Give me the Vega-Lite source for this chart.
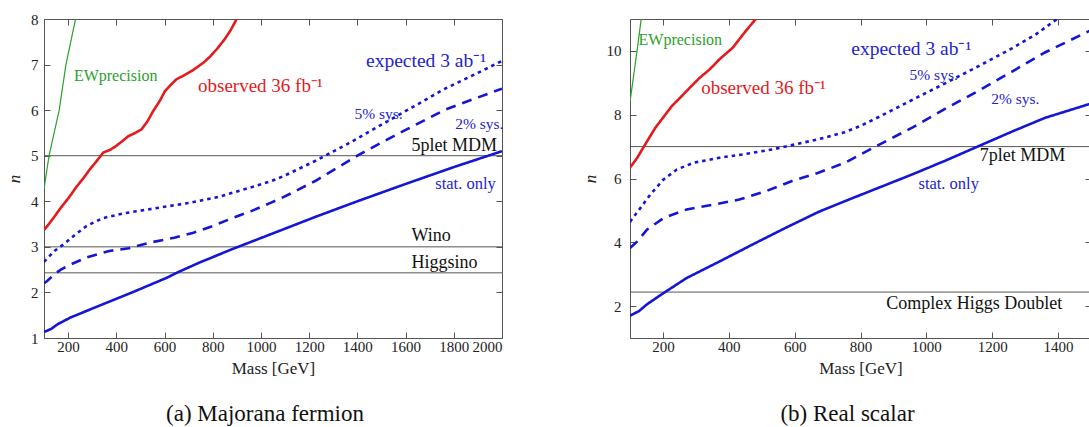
{
  "$schema": "https://vega.github.io/schema/vega-lite/v6.json",
  "padding": {"left": 5, "top": 11, "right": 0, "bottom": 0},
  "spacing": 76,
  "config": {
    "font": "Liberation Serif",
    "view": {"stroke": "#555", "strokeWidth": 1},
    "axis": {"domain": false, "grid": false, "tickColor": "#555", "tickSize": -6, "labelFont": "Liberation Serif", "labelFontSize": 15, "labelColor": "#222", "titleFont": "Liberation Serif", "titleFontSize": 17, "titleFontWeight": "normal", "titleColor": "#222", "labelPadding": 7},
    "title": {"font": "Liberation Serif", "fontSize": 23, "fontWeight": "normal", "color": "#111"}
  },
  "datasets": {
    "a_curves": [
      {"curve": "ew", "m": 100, "n": 4.27}, {"curve": "ew", "m": 121, "n": 5.0}, {"curve": "ew", "m": 142, "n": 5.5}, {"curve": "ew", "m": 163, "n": 6.0}, {"curve": "ew", "m": 177, "n": 6.5}, {"curve": "ew", "m": 191, "n": 7.0}, {"curve": "ew", "m": 211, "n": 7.5}, {"curve": "ew", "m": 231, "n": 8.0},
      {"curve": "obs", "m": 100, "n": 3.37}, {"curve": "obs", "m": 120, "n": 3.5}, {"curve": "obs", "m": 143, "n": 3.66}, {"curve": "obs", "m": 170, "n": 3.86}, {"curve": "obs", "m": 203, "n": 4.08}, {"curve": "obs", "m": 235, "n": 4.32}, {"curve": "obs", "m": 264, "n": 4.51}, {"curve": "obs", "m": 290, "n": 4.7}, {"curve": "obs", "m": 315, "n": 4.86}, {"curve": "obs", "m": 346, "n": 5.07}, {"curve": "obs", "m": 375, "n": 5.13}, {"curve": "obs", "m": 398, "n": 5.21}, {"curve": "obs", "m": 425, "n": 5.32}, {"curve": "obs", "m": 450, "n": 5.43}, {"curve": "obs", "m": 475, "n": 5.49}, {"curve": "obs", "m": 505, "n": 5.58}, {"curve": "obs", "m": 530, "n": 5.76}, {"curve": "obs", "m": 553, "n": 5.98}, {"curve": "obs", "m": 580, "n": 6.2}, {"curve": "obs", "m": 602, "n": 6.42}, {"curve": "obs", "m": 625, "n": 6.55}, {"curve": "obs", "m": 650, "n": 6.68}, {"curve": "obs", "m": 680, "n": 6.76}, {"curve": "obs", "m": 713, "n": 6.86}, {"curve": "obs", "m": 740, "n": 6.96}, {"curve": "obs", "m": 761, "n": 7.04}, {"curve": "obs", "m": 790, "n": 7.18}, {"curve": "obs", "m": 817, "n": 7.34}, {"curve": "obs", "m": 850, "n": 7.56}, {"curve": "obs", "m": 875, "n": 7.76}, {"curve": "obs", "m": 899, "n": 8.0},
      {"curve": "sys5", "m": 100, "n": 2.67}, {"curve": "sys5", "m": 120, "n": 2.78}, {"curve": "sys5", "m": 143, "n": 2.91}, {"curve": "sys5", "m": 183, "n": 3.06}, {"curve": "sys5", "m": 223, "n": 3.24}, {"curve": "sys5", "m": 277, "n": 3.46}, {"curve": "sys5", "m": 344, "n": 3.63}, {"curve": "sys5", "m": 425, "n": 3.73}, {"curve": "sys5", "m": 519, "n": 3.81}, {"curve": "sys5", "m": 613, "n": 3.89}, {"curve": "sys5", "m": 707, "n": 3.97}, {"curve": "sys5", "m": 827, "n": 4.1}, {"curve": "sys5", "m": 935, "n": 4.27}, {"curve": "sys5", "m": 1042, "n": 4.44}, {"curve": "sys5", "m": 1093, "n": 4.55}, {"curve": "sys5", "m": 1227, "n": 4.89}, {"curve": "sys5", "m": 1360, "n": 5.26}, {"curve": "sys5", "m": 1493, "n": 5.66}, {"curve": "sys5", "m": 1627, "n": 6.06}, {"curve": "sys5", "m": 1760, "n": 6.46}, {"curve": "sys5", "m": 1893, "n": 6.8}, {"curve": "sys5", "m": 2000, "n": 7.08},
      {"curve": "sys2", "m": 100, "n": 2.2}, {"curve": "sys2", "m": 113, "n": 2.25}, {"curve": "sys2", "m": 143, "n": 2.4}, {"curve": "sys2", "m": 170, "n": 2.5}, {"curve": "sys2", "m": 197, "n": 2.58}, {"curve": "sys2", "m": 277, "n": 2.77}, {"curve": "sys2", "m": 371, "n": 2.91}, {"curve": "sys2", "m": 452, "n": 2.97}, {"curve": "sys2", "m": 545, "n": 3.1}, {"curve": "sys2", "m": 640, "n": 3.2}, {"curve": "sys2", "m": 720, "n": 3.31}, {"curve": "sys2", "m": 801, "n": 3.46}, {"curve": "sys2", "m": 881, "n": 3.63}, {"curve": "sys2", "m": 962, "n": 3.79}, {"curve": "sys2", "m": 1042, "n": 3.97}, {"curve": "sys2", "m": 1093, "n": 4.09}, {"curve": "sys2", "m": 1227, "n": 4.45}, {"curve": "sys2", "m": 1400, "n": 5.0}, {"curve": "sys2", "m": 1493, "n": 5.27}, {"curve": "sys2", "m": 1627, "n": 5.64}, {"curve": "sys2", "m": 1760, "n": 6.0}, {"curve": "sys2", "m": 1880, "n": 6.24}, {"curve": "sys2", "m": 2000, "n": 6.47},
      {"curve": "stat", "m": 100, "n": 1.13}, {"curve": "stat", "m": 130, "n": 1.2}, {"curve": "stat", "m": 156, "n": 1.3}, {"curve": "stat", "m": 210, "n": 1.45}, {"curve": "stat", "m": 344, "n": 1.74}, {"curve": "stat", "m": 479, "n": 2.03}, {"curve": "stat", "m": 613, "n": 2.33}, {"curve": "stat", "m": 650, "n": 2.43}, {"curve": "stat", "m": 747, "n": 2.66}, {"curve": "stat", "m": 881, "n": 2.95}, {"curve": "stat", "m": 1042, "n": 3.28}, {"curve": "stat", "m": 1227, "n": 3.66}, {"curve": "stat", "m": 1400, "n": 4.0}, {"curve": "stat", "m": 1600, "n": 4.38}, {"curve": "stat", "m": 1800, "n": 4.75}, {"curve": "stat", "m": 2000, "n": 5.1}
    ],
    "a_refs": [{"name": "5plet MDM", "n": 5}, {"name": "Wino", "n": 3}, {"name": "Higgsino", "n": 2.43}],
    "a_labels": [
      {"text": "EWprecision", "kind": "ew", "m": 224, "n": 6.75},
      {"text": "observed 36 fb⁻¹", "kind": "obs", "m": 739, "n": 6.53},
      {"text": "expected 3 ab⁻¹", "kind": "exp", "m": 1436, "n": 7.08},
      {"text": "5% sys.", "kind": "sys", "m": 1388, "n": 5.91},
      {"text": "2% sys.", "kind": "sys", "m": 1806, "n": 5.7},
      {"text": "stat. only", "kind": "stat", "m": 1723, "n": 4.39},
      {"text": "5plet MDM", "kind": "ref", "m": 1625, "n": 5.21},
      {"text": "Wino", "kind": "ref", "m": 1625, "n": 3.24},
      {"text": "Higgsino", "kind": "ref", "m": 1625, "n": 2.65}
    ],
    "b_curves": [
      {"curve": "ew", "m": 100, "n": 8.4}, {"curve": "ew", "m": 108, "n": 9.0}, {"curve": "ew", "m": 116, "n": 9.6}, {"curve": "ew", "m": 124, "n": 10.2}, {"curve": "ew", "m": 134, "n": 11.0},
      {"curve": "obs", "m": 100, "n": 6.34}, {"curve": "obs", "m": 122, "n": 6.65}, {"curve": "obs", "m": 152, "n": 7.17}, {"curve": "obs", "m": 177, "n": 7.59}, {"curve": "obs", "m": 202, "n": 7.93}, {"curve": "obs", "m": 227, "n": 8.27}, {"curve": "obs", "m": 252, "n": 8.53}, {"curve": "obs", "m": 282, "n": 8.85}, {"curve": "obs", "m": 312, "n": 9.16}, {"curve": "obs", "m": 342, "n": 9.42}, {"curve": "obs", "m": 372, "n": 9.74}, {"curve": "obs", "m": 412, "n": 10.1}, {"curve": "obs", "m": 452, "n": 10.63}, {"curve": "obs", "m": 482, "n": 11.0},
      {"curve": "sys5", "m": 100, "n": 4.64}, {"curve": "sys5", "m": 115, "n": 4.85}, {"curve": "sys5", "m": 132, "n": 5.08}, {"curve": "sys5", "m": 162, "n": 5.5}, {"curve": "sys5", "m": 202, "n": 5.97}, {"curve": "sys5", "m": 242, "n": 6.28}, {"curve": "sys5", "m": 292, "n": 6.49}, {"curve": "sys5", "m": 372, "n": 6.65}, {"curve": "sys5", "m": 452, "n": 6.77}, {"curve": "sys5", "m": 532, "n": 6.91}, {"curve": "sys5", "m": 602, "n": 7.07}, {"curve": "sys5", "m": 672, "n": 7.23}, {"curve": "sys5", "m": 752, "n": 7.45}, {"curve": "sys5", "m": 800, "n": 7.65}, {"curve": "sys5", "m": 860, "n": 7.95}, {"curve": "sys5", "m": 960, "n": 8.48}, {"curve": "sys5", "m": 1060, "n": 9.0}, {"curve": "sys5", "m": 1160, "n": 9.53}, {"curve": "sys5", "m": 1260, "n": 10.08}, {"curve": "sys5", "m": 1330, "n": 10.5}, {"curve": "sys5", "m": 1397, "n": 11.0},
      {"curve": "sys2", "m": 100, "n": 3.82}, {"curve": "sys2", "m": 122, "n": 4.03}, {"curve": "sys2", "m": 152, "n": 4.4}, {"curve": "sys2", "m": 202, "n": 4.76}, {"curve": "sys2", "m": 272, "n": 5.03}, {"curve": "sys2", "m": 352, "n": 5.18}, {"curve": "sys2", "m": 432, "n": 5.34}, {"curve": "sys2", "m": 512, "n": 5.6}, {"curve": "sys2", "m": 592, "n": 5.92}, {"curve": "sys2", "m": 672, "n": 6.18}, {"curve": "sys2", "m": 752, "n": 6.49}, {"curve": "sys2", "m": 860, "n": 7.08}, {"curve": "sys2", "m": 960, "n": 7.61}, {"curve": "sys2", "m": 1060, "n": 8.2}, {"curve": "sys2", "m": 1160, "n": 8.76}, {"curve": "sys2", "m": 1260, "n": 9.35}, {"curve": "sys2", "m": 1360, "n": 9.95}, {"curve": "sys2", "m": 1500, "n": 10.65},
      {"curve": "stat", "m": 100, "n": 1.7}, {"curve": "stat", "m": 127, "n": 1.84}, {"curve": "stat", "m": 152, "n": 2.06}, {"curve": "stat", "m": 202, "n": 2.41}, {"curve": "stat", "m": 272, "n": 2.88}, {"curve": "stat", "m": 372, "n": 3.4}, {"curve": "stat", "m": 472, "n": 3.93}, {"curve": "stat", "m": 572, "n": 4.45}, {"curve": "stat", "m": 672, "n": 4.95}, {"curve": "stat", "m": 760, "n": 5.32}, {"curve": "stat", "m": 860, "n": 5.73}, {"curve": "stat", "m": 960, "n": 6.14}, {"curve": "stat", "m": 1060, "n": 6.57}, {"curve": "stat", "m": 1160, "n": 7.02}, {"curve": "stat", "m": 1260, "n": 7.47}, {"curve": "stat", "m": 1360, "n": 7.9}, {"curve": "stat", "m": 1500, "n": 8.35}
    ],
    "b_refs": [{"name": "7plet MDM", "n": 7}, {"name": "Complex Higgs Doublet", "n": 2.44}],
    "b_labels": [
      {"text": "EWprecision", "kind": "ew", "m": 126, "n": 10.33},
      {"text": "observed 36 fb⁻¹", "kind": "obs", "m": 316, "n": 8.83},
      {"text": "expected 3 ab⁻¹", "kind": "exp", "m": 772, "n": 10.07},
      {"text": "5% sys.", "kind": "sys", "m": 949, "n": 9.24},
      {"text": "2% sys.", "kind": "sys", "m": 1197, "n": 8.5},
      {"text": "stat. only", "kind": "stat", "m": 976, "n": 5.82},
      {"text": "7plet MDM", "kind": "ref", "m": 1162, "n": 6.71},
      {"text": "Complex Higgs Doublet", "kind": "ref", "m": 878, "n": 2.08}
    ]
  },
  "hconcat": [
    {
      "width": 458, "height": 319,
      "title": {"text": "(a)  Majorana fermion", "orient": "bottom", "dx": -8, "offset": 27},
      "resolve": {"axis": {"x": "independent", "y": "independent"}, "scale": {"color": "independent"}},
      "layer": [
        {
          "data": {"name": "a_refs"},
          "mark": {"type": "rule", "color": "#555", "strokeWidth": 1},
          "encoding": {"y": {"field": "n", "type": "quantitative", "scale": {"domain": [1, 8]}, "axis": null}}
        },
        {
          "data": {"name": "a_curves"},
          "mark": {"type": "line", "clip": true},
          "encoding": {
            "x": {"field": "m", "type": "quantitative", "scale": {"domain": [100, 2000], "nice": false}, "axis": {"title": "Mass [GeV]", "labelFont": "Liberation Serif", "titleFont": "Liberation Serif", "values": [200, 400, 600, 800, 1000, 1200, 1400, 1600, 1800, 2000], "format": "d", "titlePadding": 6}},
            "y": {"field": "n", "type": "quantitative", "scale": {"domain": [1, 8], "nice": false}, "axis": {"title": "n", "labelFont": "Liberation Serif", "titleFont": "Liberation Serif", "titleFontStyle": "italic", "values": [1, 2, 3, 4, 5, 6, 7, 8], "labelPadding": 12, "titlePadding": 7}},
            "color": {"field": "curve", "type": "nominal", "scale": {"domain": ["ew", "obs", "sys5", "sys2", "stat"], "range": ["#2ca02c", "#e41a1c", "#1515d8", "#1515d8", "#1515d8"]}, "legend": null},
            "strokeDash": {"field": "curve", "type": "nominal", "scale": {"type": "ordinal", "domain": ["ew", "obs", "sys5", "sys2", "stat"], "range": [[1, 0], [1, 0], [3.5, 4], [10, 7], [1, 0]]}, "legend": null},
            "strokeWidth": {"field": "curve", "type": "nominal", "scale": {"type": "ordinal", "domain": ["ew", "obs", "sys5", "sys2", "stat"], "range": [1.2, 2.6, 2.6, 2.6, 2.6]}, "legend": null}
          }
        },
        {
          "data": {"name": "a_labels"},
          "mark": {"type": "text", "align": "left", "baseline": "middle", "font": "Liberation Serif"},
          "encoding": {
            "x": {"field": "m", "type": "quantitative", "axis": {"orient": "top", "labels": false, "title": null, "values": [200, 400, 600, 800, 1000, 1200, 1400, 1600, 1800, 2000]}},
            "y": {"field": "n", "type": "quantitative", "axis": {"orient": "right", "labels": false, "title": null, "values": [1, 2, 3, 4, 5, 6, 7, 8]}},
            "text": {"field": "text"},
            "color": {"field": "kind", "type": "nominal", "scale": {"domain": ["ew", "obs", "exp", "sys", "stat", "ref"], "range": ["#2ca02c", "#e41a1c", "#2323d0", "#2323d0", "#2323d0", "#111111"]}, "legend": null},
            "size": {"field": "kind", "type": "nominal", "scale": {"type": "ordinal", "domain": ["ew", "obs", "exp", "sys", "stat", "ref"], "range": [16, 19, 19.5, 15.5, 16.5, 18]}, "legend": null}
          }
        }
      ]
    },
    {
      "width": 461, "height": 319,
      "title": {"text": "(b)  Real scalar", "orient": "bottom", "dx": -13, "offset": 27},
      "resolve": {"axis": {"x": "independent", "y": "independent"}, "scale": {"color": "independent"}},
      "layer": [
        {
          "data": {"name": "b_refs"},
          "mark": {"type": "rule", "color": "#555", "strokeWidth": 1},
          "encoding": {"y": {"field": "n", "type": "quantitative", "scale": {"domain": [1, 11]}, "axis": null}}
        },
        {
          "data": {"name": "b_curves"},
          "mark": {"type": "line", "clip": true},
          "encoding": {
            "x": {"field": "m", "type": "quantitative", "scale": {"domain": [100, 1500], "nice": false}, "axis": {"title": "Mass [GeV]", "labelFont": "Liberation Serif", "titleFont": "Liberation Serif", "values": [200, 400, 600, 800, 1000, 1200, 1400], "format": "d", "titlePadding": 6}},
            "y": {"field": "n", "type": "quantitative", "scale": {"domain": [1, 11], "nice": false}, "axis": {"title": "n", "labelFont": "Liberation Serif", "titleFont": "Liberation Serif", "titleFontStyle": "italic", "values": [2, 4, 6, 8, 10], "labelPadding": 15, "titlePadding": 7}},
            "color": {"field": "curve", "type": "nominal", "scale": {"domain": ["ew", "obs", "sys5", "sys2", "stat"], "range": ["#2ca02c", "#e41a1c", "#1515d8", "#1515d8", "#1515d8"]}, "legend": null},
            "strokeDash": {"field": "curve", "type": "nominal", "scale": {"type": "ordinal", "domain": ["ew", "obs", "sys5", "sys2", "stat"], "range": [[1, 0], [1, 0], [3.5, 4], [10, 7], [1, 0]]}, "legend": null},
            "strokeWidth": {"field": "curve", "type": "nominal", "scale": {"type": "ordinal", "domain": ["ew", "obs", "sys5", "sys2", "stat"], "range": [1.2, 2.6, 2.6, 2.6, 2.6]}, "legend": null}
          }
        },
        {
          "data": {"name": "b_labels"},
          "mark": {"type": "text", "align": "left", "baseline": "middle", "font": "Liberation Serif"},
          "encoding": {
            "x": {"field": "m", "type": "quantitative", "axis": {"orient": "top", "labels": false, "title": null, "values": [200, 400, 600, 800, 1000, 1200, 1400]}},
            "y": {"field": "n", "type": "quantitative", "axis": {"orient": "right", "labels": false, "title": null, "values": [2, 4, 6, 8, 10]}},
            "text": {"field": "text"},
            "color": {"field": "kind", "type": "nominal", "scale": {"domain": ["ew", "obs", "exp", "sys", "stat", "ref"], "range": ["#2ca02c", "#e41a1c", "#2323d0", "#2323d0", "#2323d0", "#111111"]}, "legend": null},
            "size": {"field": "kind", "type": "nominal", "scale": {"type": "ordinal", "domain": ["ew", "obs", "exp", "sys", "stat", "ref"], "range": [16, 19, 19.5, 15.5, 16.5, 18]}, "legend": null}
          }
        }
      ]
    }
  ]
}
